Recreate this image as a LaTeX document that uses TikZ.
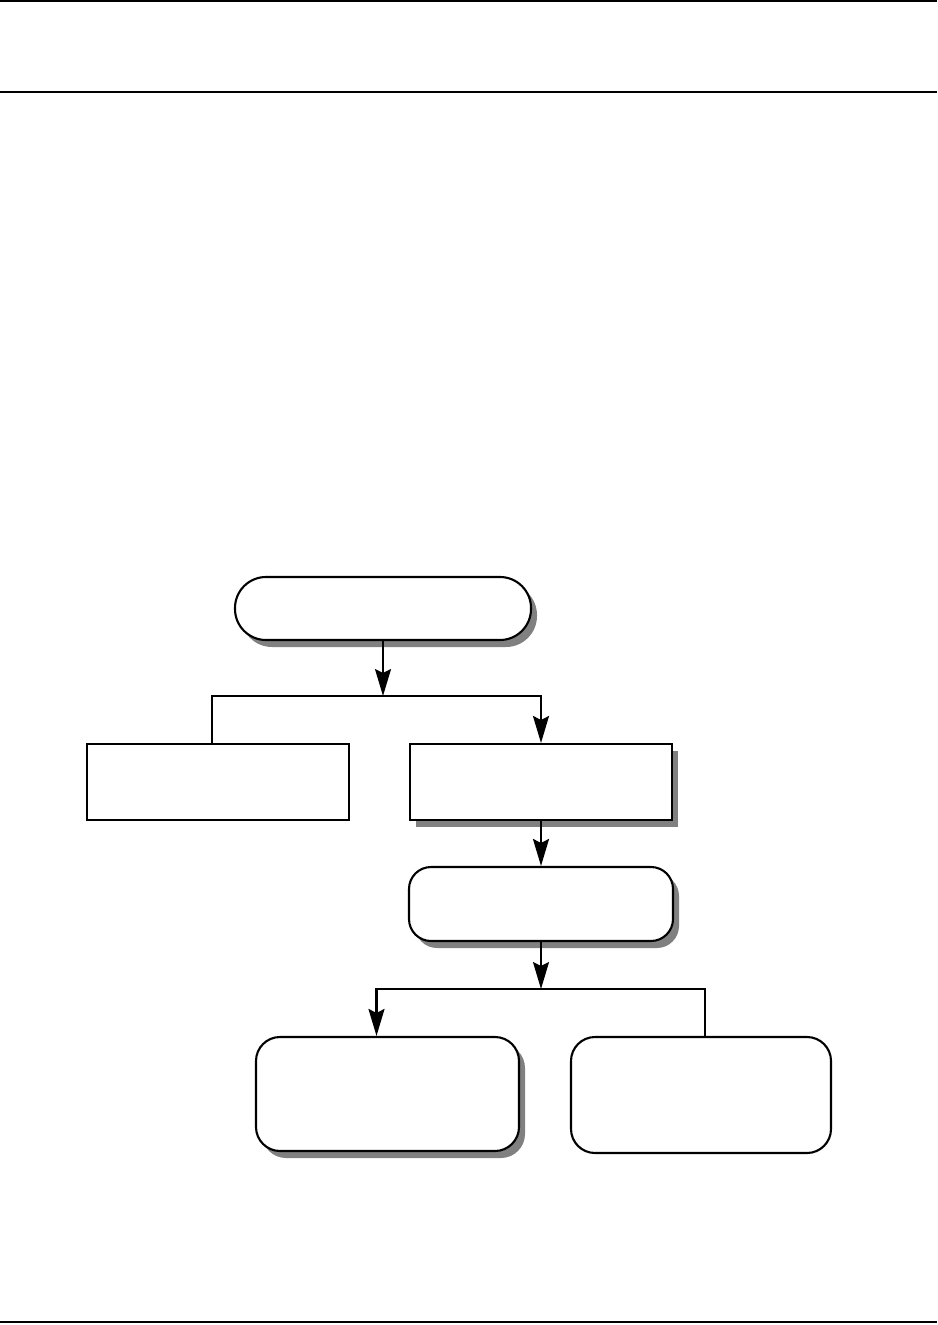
\documentclass[tikz,border=0pt]{standalone}
\usepackage{tikz}
\usetikzlibrary{arrows.meta,shadows}

\begin{document}
\begin{tikzpicture}[x=1pt,y=-1pt,line width=2.1pt,
  shadowed/.style={drop shadow={shadow xshift=6pt,shadow yshift=-7pt,fill=black!50,opacity=1}},
  plainbox/.style={draw,fill=white,minimum width=262pt,minimum height=76pt,inner sep=0pt},
  softbox/.style={draw,fill=white,rounded corners=24pt,inner sep=0pt},
  flow/.style={-{Stealth[length=27pt,width=16pt,inset=4pt]}}]
\useasboundingbox (0,0) rectangle (937,1325);
% page rules
\draw (0,1) -- (937,1);
\draw (0,92) -- (937,92);
\draw (0,1322) -- (937,1322);
% nodes
\node[softbox,shadowed,rounded corners=31pt,minimum width=296pt,minimum height=63pt] (start) at (383,608.5) {};
\node[plainbox] (left) at (218,782) {};
\node[plainbox,shadowed] (right) at (541,782) {};
\node[softbox,shadowed,rounded corners=22pt,minimum width=264pt,minimum height=74pt] (mid) at (541,904) {};
\node[softbox,shadowed,minimum width=263pt,minimum height=114pt] (outA) at (387.5,1094) {};
\node[softbox,minimum width=260pt,minimum height=116pt] (outB) at (701,1095) {};
\coordinate (split1) at (383,696);
\coordinate (split2) at (541,989);
% connectors
\draw[flow] (start.south) -- (split1);
\draw (split1) -| ([xshift=-6pt]left.north);
\draw[flow] (split1) -| (right.north);
\draw[flow] (right.south) -- (mid.north);
\draw[flow] (mid.south) -- (split2);
\draw[flow] (split2) -| ([xshift=-11pt]outA.north);
\draw (split2) -| ([xshift=4pt]outB.north);
\end{tikzpicture}
\end{document}
